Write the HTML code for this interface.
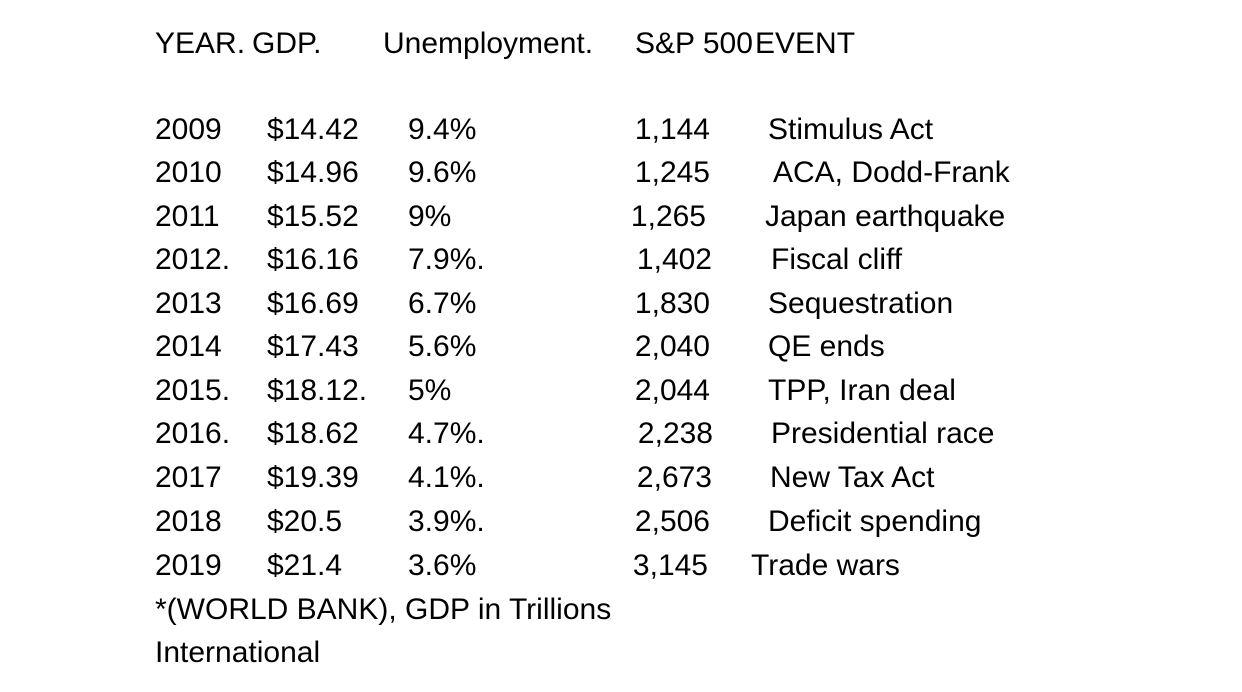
<!DOCTYPE html>
<html>
<head>
<meta charset="utf-8">
<style>
  html, body { margin:0; padding:0; background:#fff; }
  #page { position:relative; width:1242px; height:692px; overflow:hidden; background:#fff;
    font-family:"Liberation Sans", sans-serif; font-size:30px; color:#000; }
  .t { position:absolute; height:36px; line-height:36px; white-space:nowrap; }
  .r { text-align:right; }
</style>
</head>
<body>
<div id="page">
  <!-- header -->
  <div class="t" style="left:155px;top:26px">YEAR.</div>
  <div class="t" style="left:252px;top:26px">GDP.</div>
  <div class="t" style="left:383px;top:26px">Unemployment.</div>
  <div class="t" style="left:635px;top:26px">S&amp;P 500</div>
  <div class="t" style="left:755px;top:26px">EVENT</div>

  <!-- 2009 -->
  <div class="t" style="left:155px;top:112px">2009</div>
  <div class="t" style="left:267px;top:112px">$14.42</div>
  <div class="t" style="left:408px;top:112px">9.4%</div>
  <div class="t r" style="right:532px;top:112px">1,144</div>
  <div class="t" style="left:768px;top:112px">Stimulus Act</div>
  <!-- 2010 -->
  <div class="t" style="left:155px;top:155px">2010</div>
  <div class="t" style="left:267px;top:155px">$14.96</div>
  <div class="t" style="left:408px;top:155px">9.6%</div>
  <div class="t r" style="right:532px;top:155px">1,245</div>
  <div class="t" style="left:773px;top:155px">ACA, Dodd-Frank</div>
  <!-- 2011 -->
  <div class="t" style="left:155px;top:199px">2011</div>
  <div class="t" style="left:267px;top:199px">$15.52</div>
  <div class="t" style="left:408px;top:199px">9%</div>
  <div class="t r" style="right:536px;top:199px">1,265</div>
  <div class="t" style="left:765px;top:199px">Japan earthquake</div>
  <!-- 2012 -->
  <div class="t" style="left:155px;top:242px">2012.</div>
  <div class="t" style="left:267px;top:242px">$16.16</div>
  <div class="t" style="left:408px;top:242px">7.9%.</div>
  <div class="t r" style="right:530px;top:242px">1,402</div>
  <div class="t" style="left:771px;top:242px">Fiscal cliff</div>
  <!-- 2013 -->
  <div class="t" style="left:155px;top:286px">2013</div>
  <div class="t" style="left:267px;top:286px">$16.69</div>
  <div class="t" style="left:408px;top:286px">6.7%</div>
  <div class="t r" style="right:532px;top:286px">1,830</div>
  <div class="t" style="left:768px;top:286px">Sequestration</div>
  <!-- 2014 -->
  <div class="t" style="left:155px;top:329px">2014</div>
  <div class="t" style="left:267px;top:329px">$17.43</div>
  <div class="t" style="left:408px;top:329px">5.6%</div>
  <div class="t r" style="right:532px;top:329px">2,040</div>
  <div class="t" style="left:768px;top:329px">QE ends</div>
  <!-- 2015 -->
  <div class="t" style="left:155px;top:373px">2015.</div>
  <div class="t" style="left:267px;top:373px">$18.12.</div>
  <div class="t" style="left:408px;top:373px">5%</div>
  <div class="t r" style="right:532px;top:373px">2,044</div>
  <div class="t" style="left:768px;top:373px">TPP, Iran deal</div>
  <!-- 2016 -->
  <div class="t" style="left:155px;top:416px">2016.</div>
  <div class="t" style="left:267px;top:416px">$18.62</div>
  <div class="t" style="left:408px;top:416px">4.7%.</div>
  <div class="t r" style="right:529px;top:416px">2,238</div>
  <div class="t" style="left:771px;top:416px">Presidential race</div>
  <!-- 2017 -->
  <div class="t" style="left:155px;top:460px">2017</div>
  <div class="t" style="left:267px;top:460px">$19.39</div>
  <div class="t" style="left:408px;top:460px">4.1%.</div>
  <div class="t r" style="right:530px;top:460px">2,673</div>
  <div class="t" style="left:770px;top:460px">New Tax Act</div>
  <!-- 2018 -->
  <div class="t" style="left:155px;top:504px">2018</div>
  <div class="t" style="left:267px;top:504px">$20.5</div>
  <div class="t" style="left:408px;top:504px">3.9%.</div>
  <div class="t r" style="right:532px;top:504px">2,506</div>
  <div class="t" style="left:768px;top:504px">Deficit spending</div>
  <!-- 2019 -->
  <div class="t" style="left:155px;top:548px">2019</div>
  <div class="t" style="left:267px;top:548px">$21.4</div>
  <div class="t" style="left:408px;top:548px">3.6%</div>
  <div class="t r" style="right:534px;top:548px">3,145</div>
  <div class="t" style="left:751px;top:548px">Trade wars</div>

  <!-- footnote -->
  <div class="t" style="left:155px;top:592px">*(WORLD BANK), GDP in Trillions</div>
  <div class="t" style="left:155px;top:635px">International</div>
</div>
</body>
</html>
